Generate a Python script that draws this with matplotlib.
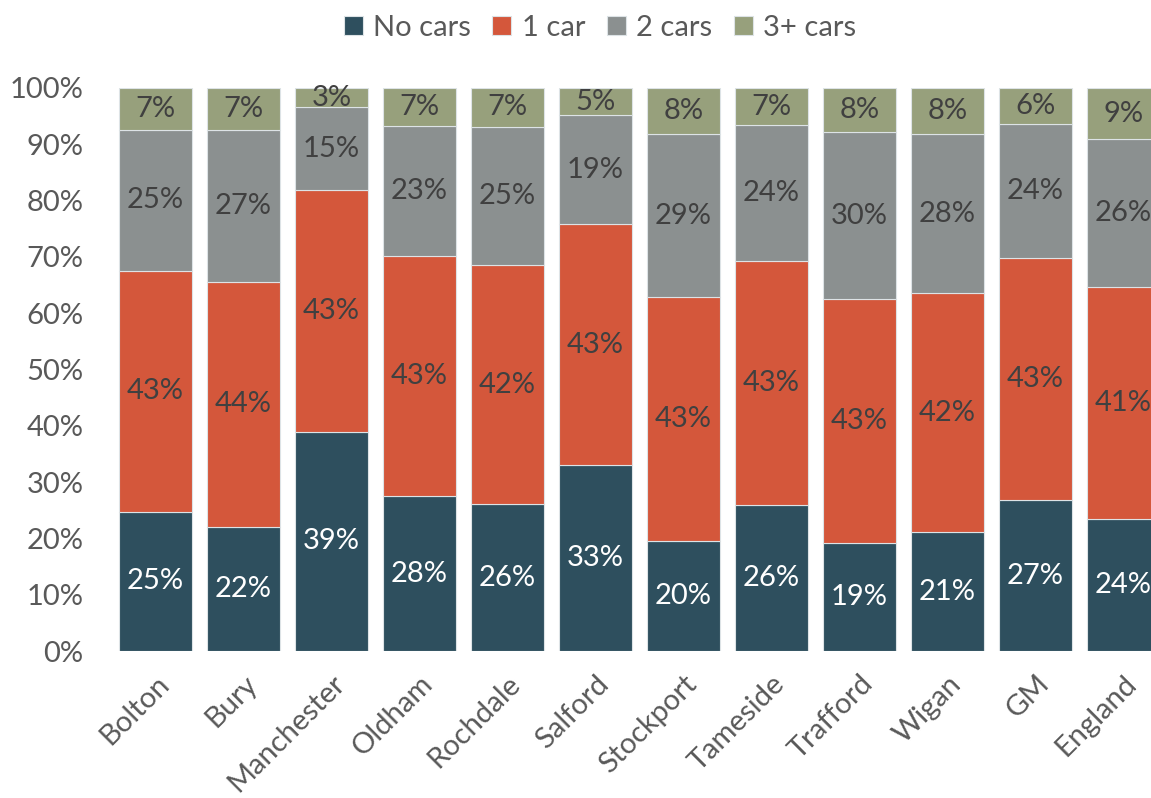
import matplotlib
matplotlib.use("Agg")
import matplotlib.pyplot as plt
import numpy as np
from matplotlib.ticker import PercentFormatter

plt.rcParams['font.family'] = ['Lato', 'DejaVu Sans']

# Data (shares of households, %)
areas = ['Bolton', 'Bury', 'Manchester', 'Oldham', 'Rochdale', 'Salford',
         'Stockport', 'Tameside', 'Trafford', 'Wigan', 'GM', 'England']
no_cars = [24.7, 22.0, 38.9, 27.5, 26.1, 33.0, 19.6, 25.9, 19.2, 21.1, 26.8, 23.5]
one_car = [42.8, 43.6, 43.0, 42.6, 42.4, 42.8, 43.3, 43.4, 43.3, 42.5, 43.0, 41.2]
two_cars = [25.1, 27.0, 14.7, 23.1, 24.6, 19.4, 28.9, 24.1, 29.7, 28.2, 23.8, 26.2]
three_plus = [7.4, 7.4, 3.4, 6.8, 6.9, 4.8, 8.2, 6.6, 7.8, 8.2, 6.4, 9.1]

series = [('No cars', no_cars, '#2e4f5e', 'white'),
          ('1 car', one_car, '#d4573b', '#404040'),
          ('2 cars', two_cars, '#8b9090', '#404040'),
          ('3+ cars', three_plus, '#97a07c', '#404040')]

fig = plt.figure(figsize=(11.51, 7.98), dpi=100)
ax = fig.add_axes([111.5 / 1151, 147 / 798, 1056 / 1151, 563 / 798])

x = np.arange(len(areas))
bottom = np.zeros(len(areas))
for name, vals, col, tcol in series:
    vals = np.array(vals)
    ax.bar(x, vals, 0.83, bottom=bottom, color=col, label=name,
           edgecolor='#dde3e6', linewidth=0.8)
    for xi, b, v in zip(x, bottom, vals):
        ax.text(xi, b + v / 2, f'{round(v):.0f}%', ha='center', va='center',
                fontsize=21, color=tcol)
    bottom += vals

ax.set_xlim(-0.5, len(areas) - 0.5)
ax.set_ylim(0, 100)
ax.set_yticks(np.arange(0, 101, 10))
ax.yaxis.set_major_formatter(PercentFormatter(decimals=0))
ax.set_xticks(x)
ax.set_xticklabels(areas, rotation=45, ha='right', rotation_mode='anchor')
ax.tick_params(axis='both', length=0, labelsize=21, colors='#595959')
ax.tick_params(axis='x', pad=14)
ax.tick_params(axis='y', pad=20)
for s in ax.spines.values():
    s.set_visible(False)

leg = fig.legend(loc='center', bbox_to_anchor=(600 / 1151, 1 - 28 / 798), ncol=4,
                 frameon=False, fontsize=21, handlelength=0.65, handleheight=0.65,
                 handletextpad=0.35, columnspacing=0.75)
for t in leg.get_texts():
    t.set_color('#595959')

fig.savefig('out.png', dpi=100)
